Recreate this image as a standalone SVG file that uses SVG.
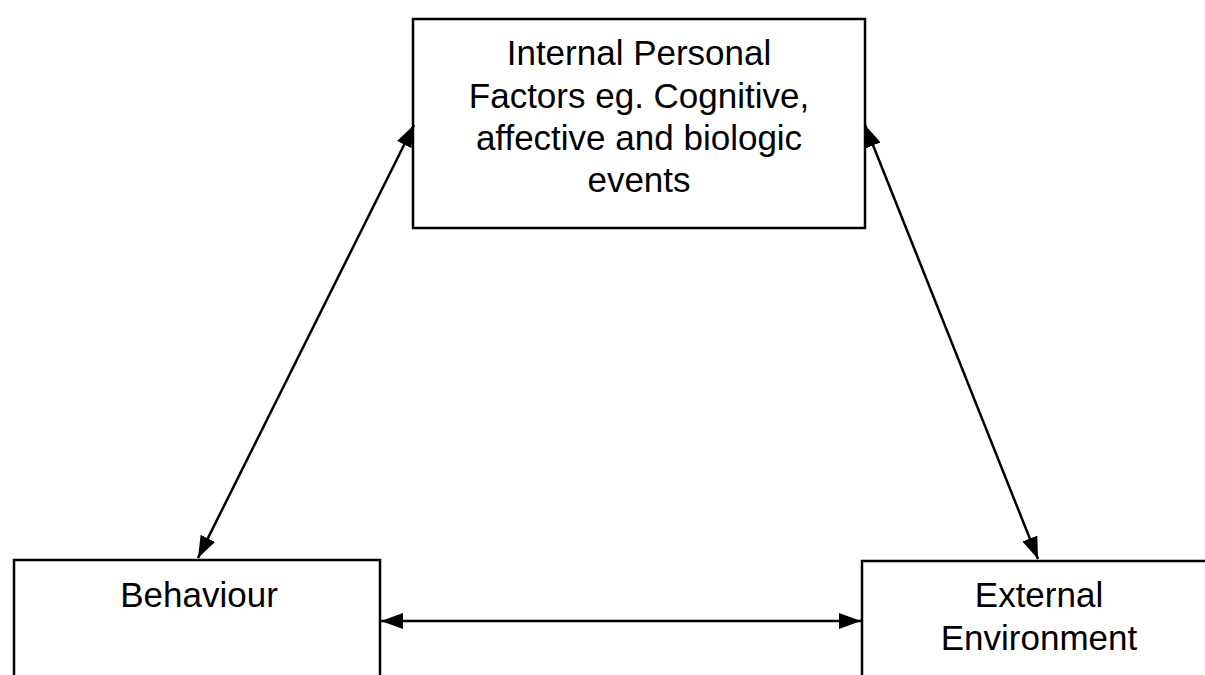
<svg xmlns="http://www.w3.org/2000/svg" width="1205" height="675" viewBox="0 0 1205 675">
  <style>
    .box { fill: #ffffff; stroke: #000000; stroke-width: 2.5; }
    .label { font-family: "Liberation Sans", Arial, sans-serif; font-size: 35px; fill: #000000; text-anchor: middle; }
    .link { stroke: #000000; stroke-width: 2.5; fill: none; marker-start: url(#head); marker-end: url(#head); }
  </style>
  <defs>
    <marker id="head" viewBox="0 0 22 16" refX="22" refY="8" markerWidth="22" markerHeight="16" markerUnits="userSpaceOnUse" orient="auto-start-reverse">
      <path d="M0,0 L22,8 L0,16 Z" fill="#000000"/>
    </marker>
  </defs>
  <rect width="1205" height="675" fill="#ffffff"/>

  <g id="internal-factors">
    <rect class="box" x="413" y="19" width="452" height="209"/>
    <text class="label" x="639" y="65">Internal Personal</text>
    <text class="label" x="639" y="108">Factors eg. Cognitive,</text>
    <text class="label" x="639" y="150">affective and biologic</text>
    <text class="label" x="639" y="192">events</text>
  </g>

  <g id="behaviour">
    <rect class="box" x="14" y="560" width="366" height="130"/>
    <text class="label" x="199" y="607">Behaviour</text>
  </g>

  <g id="external-environment">
    <rect class="box" x="862" y="561" width="360" height="130"/>
    <text class="label" x="1039" y="607">External</text>
    <text class="label" x="1039" y="650">Environment</text>
  </g>

  <g id="connectors">
    <line class="link" x1="198" y1="558" x2="414" y2="125"/>
    <line class="link" x1="865" y1="125" x2="1038" y2="559"/>
    <line class="link" x1="381" y1="621" x2="861" y2="621"/>
  </g>
</svg>
